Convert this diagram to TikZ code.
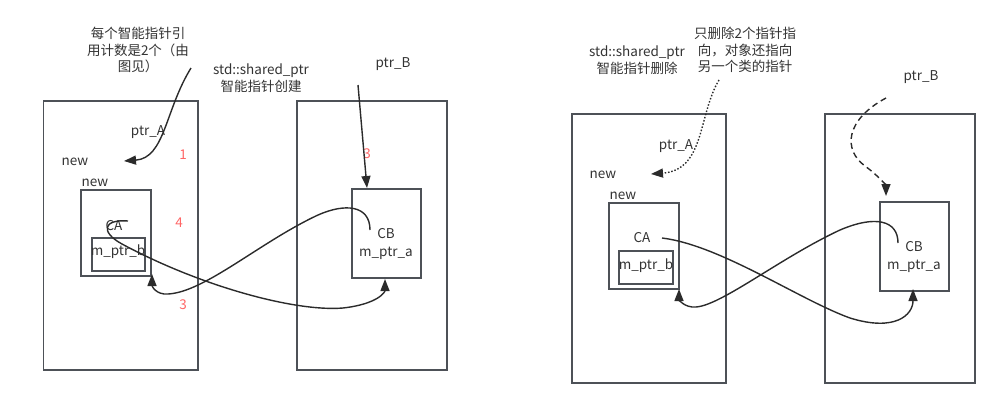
\documentclass[tikz,border=0pt]{standalone}
\usepackage{fontspec}
\setmainfont{Noto Sans CJK SC}
\usetikzlibrary{arrows.meta}
\definecolor{boxc}{HTML}{4D5157}
\definecolor{txt}{HTML}{333333}
\definecolor{redn}{HTML}{FF6666}
\definecolor{arrc}{HTML}{2B2B2B}
\begin{document}
\begin{tikzpicture}[x=1pt,y=-1pt,
  box/.style={draw=boxc,line width=1.6pt,inner sep=0pt},
  lbl/.style={text=txt,font=\fontsize{13.5}{16.5}\selectfont,inner sep=0pt,align=center},
  num/.style={text=redn,font=\fontsize{13.5}{16}\selectfont,inner sep=0pt},
  conn/.style={draw=arrc,line width=1.4pt,-{Triangle[length=12pt,width=9pt]}}]
\useasboundingbox (0,0) rectangle (1000,408);
% ---------- left panel ----------
\node[box,minimum width=154.5pt,minimum height=269pt] (boxA1) at (120.75,235.5) {};
\node[box,minimum width=150pt,minimum height=269pt] (boxB1) at (372,235.5) {};
\node[box,minimum width=70pt,minimum height=86pt] (ca1) at (116,233) {};
\node[box,minimum width=53pt,minimum height=33pt] (mpb1) at (118.5,254.5) {};
\node[box,minimum width=69pt,minimum height=89pt] (cb1) at (386.5,233.5) {};
\node[lbl] (note1) at (138,50) {每个智能指针引\\用计数是2个（由\\图见）};
\node[lbl] (title1) at (261,78) {std::shared\_ptr\\智能指针创建};
\node[lbl] (ptrB1) at (393,64) {ptr\_B};
\node[lbl] (ptrA1) at (148,132) {ptr\_A};
\node[lbl] (newA1) at (75,162) {new};
\node[lbl] (newCA1) at (95,183) {new};
\node[lbl] (catext1) at (114,226) {CA};
\node[lbl] (mpbtext1) at (118,252) {m\_ptr\_b};
\node[lbl] (cbtext1) at (386,234) {CB};
\node[lbl] (mpatext1) at (386,253) {m\_ptr\_a};
\node[num] (n1) at (183,155) {1};
\node[num] (n4) at (179,223) {4};
\node[num] (n3a) at (183,305) {3};
\node[num] (n3b) at (367,154) {3};
\coordinate (s1) at (191,68);
\coordinate (e1) at (124,161);
\coordinate (s2) at (358,85);
\coordinate (e2) at (367,188);
\coordinate (s3) at (128,221);
\coordinate (e3) at (385,279);
\coordinate (s4) at (370,230);
\coordinate (e4) at (152,274);
\draw[conn] (s1) .. controls (165,110) and (165,158) .. (e1);
\draw[conn] (s2) -- (e2);
\draw[conn] (s3) .. controls (103,219) and (100,232) .. (122,244)
  .. controls (200,286) and (295,312) .. (343,308)
  .. controls (378,304) and (385,292) .. (e3);
\draw[conn] (s4) .. controls (370,205) and (345,203) .. (318,215)
  .. controls (260,242) and (205,292) .. (168,294)
  .. controls (156,295) and (152,286) .. (e4);
% ---------- right panel ----------
\node[box,minimum width=154pt,minimum height=269pt] (boxA2) at (649,248.5) {};
\node[box,minimum width=150pt,minimum height=269pt] (boxB2) at (900,248.5) {};
\node[box,minimum width=70pt,minimum height=86pt] (ca2) at (644,246) {};
\node[box,minimum width=54pt,minimum height=33pt] (mpb2) at (646,267.5) {};
\node[box,minimum width=69pt,minimum height=89pt] (cb2) at (914.5,246.5) {};
\node[lbl] (title2) at (637,60) {std::shared\_ptr\\智能指针删除};
\node[lbl] (note2) at (745,50) {只删除2个指针指\\向，对象还指向\\另一个类的指针};
\node[lbl] (ptrB2) at (921,77) {ptr\_B};
\node[lbl] (ptrA2) at (676,146) {ptr\_A};
\node[lbl] (newA2) at (603,175) {new};
\node[lbl] (newCA2) at (623,196) {new};
\node[lbl] (catext2) at (642,238) {CA};
\node[lbl] (mpbtext2) at (646,266) {m\_ptr\_b};
\node[lbl] (cbtext2) at (914,247) {CB};
\node[lbl] (mpatext2) at (914,266) {m\_ptr\_a};
\coordinate (s5) at (719,80);
\coordinate (e5) at (651,174);
\coordinate (s6) at (886,98);
\coordinate (e6) at (886,196);
\coordinate (s7) at (662,238);
\coordinate (e7) at (913,289);
\coordinate (s8) at (898,243);
\coordinate (e8) at (679,289);
\draw[conn,dash pattern=on 1.5pt off 1.8pt] (s5) .. controls (698,115) and (705,170) .. (e5);
\draw[conn,dash pattern=on 6pt off 4pt] (s6) .. controls (845,120) and (843,150) .. (865,166)
  .. controls (880,177) and (886,186) .. (e6);
\draw[conn] (s7) .. controls (720,245) and (800,300) .. (850,318)
  .. controls (895,332) and (913,315) .. (e7);
\draw[conn] (s8) .. controls (898,220) and (875,215) .. (840,230)
  .. controls (780,258) and (722,305) .. (696,307)
  .. controls (684,308) and (679,299) .. (e8);
\end{tikzpicture}
\end{document}
